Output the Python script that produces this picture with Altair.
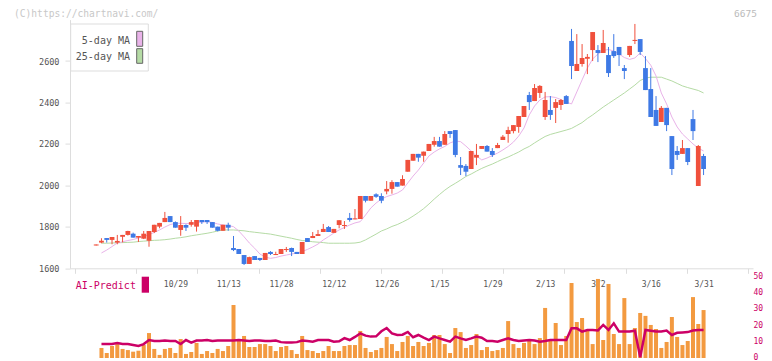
import altair as alt
import numpy as np
import pandas as pd

# ---------------- data ----------------
opens = [1710, 1724, 1746, 1737, 1724, 1752, 1761, 1767, 1748, 1743,
         1733, 1775, 1801, 1823, 1852, 1823, 1785, 1809, 1810, 1801,
         1833, 1833, 1823, 1801, 1781, 1810, 1698, 1693, 1664, 1621,
         1659, 1650, 1640, 1679, 1664, 1669, 1688, 1698, 1679, 1669,
         1746, 1746, 1756, 1775, 1799, 1771, 1809, 1804, 1843, 1836,
         1838, 1949, 1926, 1957, 1949, 1971, 1983, 2016, 1999, 2066,
         2119, 2152, 2143, 2166, 2196, 2214, 2196, 2262, 2267, 2098,
         2094, 2079, 2134, 2176, 2190, 2166, 2180, 2219, 2248, 2262,
         2282, 2330, 2436, 2407, 2446, 2330, 2364, 2374, 2388, 2431,
         2697, 2552, 2586, 2611, 2653, 2653, 2639, 2629, 2648, 2668,
         2566, 2629, 2697, 2706, 2566, 2465, 2364, 2306, 2374, 2238,
         2166, 2152, 2180, 2320, 1997, 2142]
highs = [1715, 1745, 1746, 1751, 1761, 1761, 1781, 1772, 1756, 1780,
         1780, 1810, 1819, 1872, 1852, 1826, 1852, 1812, 1833, 1833,
         1833, 1833, 1823, 1801, 1810, 1820, 1756, 1693, 1664, 1656,
         1659, 1650, 1674, 1683, 1680, 1693, 1703, 1700, 1679, 1727,
         1746, 1775, 1785, 1814, 1804, 1790, 1832, 1828, 1867, 1886,
         1949, 1949, 1949, 1962, 1962, 2021, 2025, 2016, 2049, 2123,
         2152, 2152, 2163, 2200, 2234, 2234, 2262, 2262, 2267, 2137,
         2103, 2166, 2200, 2190, 2195, 2180, 2205, 2243, 2283, 2291,
         2335, 2383, 2451, 2489, 2484, 2451, 2431, 2417, 2417, 2436,
         2755, 2730, 2682, 2634, 2740, 2677, 2750, 2668, 2730, 2668,
         2581, 2673, 2779, 2706, 2624, 2566, 2431, 2383, 2374, 2238,
         2190, 2219, 2180, 2364, 2195, 2152]
lows = [1710, 1721, 1724, 1716, 1716, 1725, 1758, 1748, 1727, 1741,
        1704, 1770, 1793, 1823, 1823, 1796, 1757, 1780, 1801, 1777,
        1814, 1814, 1796, 1778, 1781, 1781, 1683, 1669, 1616, 1621,
        1640, 1635, 1640, 1664, 1664, 1669, 1679, 1659, 1669, 1669,
        1727, 1746, 1756, 1775, 1775, 1771, 1793, 1790, 1825, 1836,
        1838, 1918, 1926, 1940, 1914, 1957, 1960, 1994, 1999, 2066,
        2119, 2114, 2114, 2166, 2187, 2187, 2196, 2229, 2136, 2050,
        2045, 2079, 2098, 2176, 2163, 2137, 2180, 2219, 2206, 2251,
        2254, 2330, 2364, 2407, 2422, 2316, 2316, 2301, 2364, 2393,
        2513, 2552, 2573, 2537, 2600, 2595, 2639, 2523, 2615, 2576,
        2513, 2620, 2682, 2629, 2460, 2330, 2287, 2306, 2262, 2050,
        2123, 2152, 2098, 2219, 1997, 2050]
closes = [1715, 1733, 1737, 1751, 1732, 1761, 1780, 1748, 1756, 1767,
          1780, 1810, 1819, 1843, 1823, 1796, 1809, 1796, 1823, 1833,
          1823, 1823, 1796, 1781, 1810, 1796, 1688, 1669, 1621, 1654,
          1640, 1640, 1674, 1669, 1669, 1693, 1693, 1679, 1669, 1727,
          1727, 1756, 1765, 1790, 1775, 1790, 1832, 1809, 1833, 1841,
          1949, 1926, 1949, 1945, 1926, 1983, 2016, 1994, 2031, 2123,
          2152, 2134, 2163, 2200, 2214, 2187, 2248, 2248, 2147, 2085,
          2066, 2166, 2147, 2190, 2163, 2147, 2195, 2235, 2267, 2291,
          2335, 2383, 2402, 2470, 2480, 2412, 2340, 2402, 2412, 2393,
          2576, 2586, 2615, 2620, 2740, 2639, 2687, 2542, 2624, 2629,
          2552, 2673, 2702, 2644, 2460, 2330, 2287, 2374, 2291, 2079,
          2147, 2180, 2113, 2262, 2190, 2079]

# series that start on day 1
ma5 = [1674, 1688, 1705, 1722, 1728, 1734, 1739, 1746, 1753, 1763,
       1773, 1785, 1799, 1811, 1817, 1817, 1816, 1816, 1821, 1823,
       1825, 1821, 1814, 1809, 1806, 1801, 1780, 1752, 1722, 1697,
       1669, 1654, 1648, 1652, 1659, 1664, 1669, 1674, 1681, 1691,
       1703, 1717, 1737, 1753, 1770, 1785, 1797, 1809, 1819, 1825,
       1857, 1891, 1915, 1934, 1946, 1954, 1963, 1978, 2012, 2045,
       2074, 2108, 2142, 2161, 2176, 2188, 2205, 2214, 2211, 2190,
       2166, 2142, 2123, 2132, 2144, 2156, 2171, 2188, 2209, 2238,
       2277, 2340, 2383, 2412, 2427, 2428, 2424, 2414, 2402, 2393,
       2451, 2509, 2566, 2610, 2634, 2651, 2656, 2648, 2634, 2617,
       2608, 2615, 2639, 2612, 2580, 2528, 2446, 2393, 2330, 2282,
       2248, 2224, 2200, 2180, 2166]
ma25 = [1721, 1721, 1722, 1723, 1724, 1725, 1726, 1729, 1731, 1733,
        1735, 1736, 1738, 1741, 1745, 1748, 1752, 1757, 1761, 1765,
        1769, 1774, 1780, 1785, 1785, 1785, 1783, 1781, 1777, 1774,
        1771, 1768, 1765, 1760, 1755, 1750, 1745, 1739, 1734, 1732,
        1728, 1726, 1724, 1721, 1721, 1721, 1721, 1721, 1722, 1726,
        1737, 1751, 1765, 1780, 1790, 1802, 1811, 1823, 1836, 1852,
        1869, 1888, 1910, 1934, 1956, 1977, 1995, 2010, 2026, 2043,
        2055, 2069, 2082, 2093, 2103, 2115, 2127, 2137, 2149, 2161,
        2176, 2188, 2205, 2221, 2236, 2246, 2253, 2260, 2267, 2275,
        2289, 2303, 2323, 2340, 2359, 2378, 2395, 2412, 2429, 2446,
        2465, 2484, 2506, 2518, 2522, 2522, 2522, 2513, 2504, 2492,
        2480, 2472, 2465, 2458, 2446]
volume = [6.2, 3.1, 7.4, 8.6, 5.6, 4.9, 3.9, 4.5, 8.0, 15.4,
          5.6, 1.9, 5.6, 6.2, 3.1, 11.7, 2.5, 3.7, 9.3, 2.5,
          4.3, 3.1, 5.6, 4.3, 7.4, 32.7, 11.7, 13.6, 6.8, 6.8,
          8.6, 8.6, 7.4, 4.3, 6.8, 7.4, 4.9, 2.5, 13.6, 4.9,
          4.3, 3.1, 4.3, 7.4, 4.3, 4.3, 7.4, 8.0, 8.0, 16.7,
          6.2, 3.7, 4.9, 6.2, 13.0, 8.6, 4.3, 9.9, 13.6, 7.4,
          9.9, 7.4, 9.3, 14.2, 14.2, 8.6, 3.1, 18.5, 16.0, 6.2,
          8.0, 14.8, 4.9, 6.8, 4.3, 4.9, 6.2, 22.8, 8.6, 6.2,
          9.3, 10.5, 8.6, 12.3, 30.9, 10.5, 21.6, 8.0, 13.6, 46.3,
          22.2, 24.7, 17.3, 8.6, 48.8, 11.1, 45.7, 14.8, 8.6, 37.0,
          8.6, 18.5, 27.8, 26.0, 20.4, 17.9, 6.2, 9.9, 25.3, 13.0,
          8.0, 10.5, 37.6, 21.0, 29.6]
ai_predict = [8.6, 8.6, 8.6, 9.3, 8.6, 8.6, 8.0, 7.4, 8.6, 11.1,
              10.5, 10.5, 10.8, 10.5, 10.5, 8.6, 11.1, 9.5, 10.8, 10.8,
              11.1, 10.5, 10.8, 10.8, 10.8, 10.8, 11.1, 10.8, 10.5, 10.8,
              10.8, 10.5, 10.5, 10.8, 9.8, 9.5, 9.5, 9.8, 10.8, 10.5,
              10.1, 11.1, 11.1, 11.1, 10.1, 10.3, 12.3, 11.1, 13.0, 15.2,
              13.8, 13.2, 13.4, 16.5, 18.5, 15.2, 14.2, 14.4, 16.1, 12.8,
              14.2, 12.6, 11.1, 13.2, 12.1, 11.1, 10.1, 13.2, 12.1, 11.1,
              12.1, 13.2, 12.5, 10.5, 10.5, 10.1, 11.1, 12.1, 11.1, 10.5,
              10.8, 11.1, 10.8, 10.1, 10.5, 11.1, 11.1, 11.1, 11.1, 18.3,
              18.3, 16.3, 17.3, 17.3, 17.0, 20.4, 17.3, 21.4, 16.3, 16.3,
              16.3, 16.8, 0.5, 17.3, 16.8, 16.3, 16.3, 16.9, 14.2, 15.6,
              15.8, 16.0, 17.0, 17.3, 17.3]

date_idx = [15, 25, 35, 45, 55, 65, 75, 85, 95, 105, 115]
date_labels = ["10/29", "11/13", "11/28", "12/12", "12/26", "1/15",
               "1/29", "2/13", "3/2", "3/16", "3/31"]
price_ticks = [1600, 1800, 2000, 2200, 2400, 2600]
vol_ticks = [0, 10, 20, 30, 40, 50]

# ---------------- styling ----------------
RED = "#f0503c"
BLUE = "#3e79e5"
ORANGE = "#f39a40"
CRIMSON = "#cc0066"
PINK = "#e9b3e9"
GREEN = "#b5dba5"
GRID = "#dddddd"
TXT = "#555555"
MONO = "DejaVu Sans Mono"

W, H = 683, 338.4
PRICE_BOTTOM = 248.7          # pixel y of the price-panel baseline
X_DOMAIN = [-4.011, 123.413]
tick_vals = [X_DOMAIN[0] + k * (X_DOMAIN[1] - X_DOMAIN[0]) / 11 for k in range(12)]

n = len(opens)
candles = pd.DataFrame({"i": np.arange(n), "open": opens, "high": highs,
                        "low": lows, "close": closes})
candles["dir"] = np.where(candles["close"] >= candles["open"], "up", "down")
series = pd.DataFrame({"i": np.arange(1, n), "ma5": ma5, "ma25": ma25,
                       "vol": volume, "ai": ai_predict})

xscale = alt.Scale(domain=X_DOMAIN, nice=False, zero=False)
price_scale = alt.Scale(domain=[1600, 2800], range=[PRICE_BOTTOM, 0], nice=False, zero=False)
vol_scale = alt.Scale(domain=[0, 50], range=[H, H - 81], nice=False, zero=False)

x_price_axis = alt.Axis(values=tick_vals, labels=False, ticks=True, tickSize=5,
                        tickColor=GRID, domainColor=GRID, grid=False, title=None,
                        orient="bottom", offset=-(H - PRICE_BOTTOM))
label_expr = " : ".join(f"datum.value == {d} ? '{t}'" for d, t in zip(date_idx, date_labels)) + " : ''"
x_vol_axis = alt.Axis(values=date_idx, labelExpr=label_expr, ticks=False, domain=False,
                      grid=False, title=None, orient="bottom", offset=-74,
                      labelBaseline="middle", labelPadding=0, labelFont=MONO,
                      labelFontSize=8, labelColor=TXT, labelOverlap=False, labelFlush=False)
price_axis = alt.Axis(values=price_ticks, format="d", orient="left", tickSize=5, tickColor=GRID,
                      domainColor=GRID, labelPadding=6, labelColor=TXT, labelFont=MONO,
                      labelFontSize=8.5, title=None, grid=False)
vol_axis = alt.Axis(values=vol_ticks, orient="right", ticks=False, domain=False,
                    labelColor=CRIMSON, labelPadding=0, labelFont=MONO, labelFontSize=8,
                    labelOffset=-0.5, title=None, grid=False, labelBaseline="middle",
                    labelFlush=False, labelOverlap=False)

def xp():
    return alt.X("i:Q", scale=xscale, axis=x_price_axis)

def xv():
    return alt.X("i:Q", scale=xscale, axis=x_vol_axis)

def yp(field):
    return alt.Y(f"{field}:Q", scale=price_scale, axis=price_axis)

def yv(field):
    return alt.Y(f"{field}:Q", scale=vol_scale, axis=vol_axis)

color = alt.Color("dir:N", scale=alt.Scale(domain=["up", "down"], range=[RED, BLUE]), legend=None)

wicks = alt.Chart(candles).mark_rule(strokeWidth=1).encode(x=xp(), y=yp("low"), y2="high:Q", color=color)
bodies = alt.Chart(candles).mark_bar(size=4.8).encode(x=xp(), y=yp("open"), y2="close:Q", color=color)
line5 = alt.Chart(series).mark_line(color=PINK, strokeWidth=1).encode(x=xp(), y=yp("ma5"))
line25 = alt.Chart(series).mark_line(color=GREEN, strokeWidth=1).encode(x=xp(), y=yp("ma25"))
price = alt.layer(line25, line5, wicks, bodies)

vbars = alt.Chart(series).mark_bar(size=4, color=ORANGE).encode(x=xv(), y=yv("vol"))
aline = alt.Chart(series).mark_line(color=CRIMSON, strokeWidth=2.5).encode(x=xv(), y=yv("ai"))
vol = alt.layer(vbars, aline)

one = pd.DataFrame({"k": [0]})

def text(t, x, y, size, col, align="left"):
    return alt.Chart(one).mark_text(text=t, font=MONO, fontSize=size, color=col,
                                    align=align, baseline="middle").encode(
        x=alt.value(x), y=alt.value(y))

def box(x, x2, y, y2, fill, stroke=None):
    kw = dict(fill=fill)
    if stroke:
        kw.update(stroke=stroke, strokeWidth=1)
    return alt.Chart(one).mark_rect(**kw).encode(
        x=alt.value(x), x2=alt.value(x2), y=alt.value(y), y2=alt.value(y2))

annotations = [
    box(0.7, 78.3, 4.4, 51.4, "white", GRID),
    text("5-day MA", 60, 21.4, 10, TXT, "right"),
    text("25-day MA", 60, 37.4, 10, TXT, "right"),
    box(66.7, 72.7, 11.7, 26.7, PINK, "#666666"),
    box(66.7, 72.7, 29.1, 43.7, GREEN, "#666666"),
    text("AI-Predict", 5.7, 266.4, 10, CRIMSON),
    box(71.7, 79, 257.1, 273.1, CRIMSON),
    text("(C)https://chartnavi.com/", -56, -5.6, 9.6, "#c8c8c8"),
    text("6675", 687, -5.6, 9.5, "#bbbbbb", "right"),
]

chart = alt.layer(price, vol, *annotations).resolve_scale(
    y="independent").resolve_axis(x="independent", y="independent").properties(
    width=W, height=H,
    autosize=alt.AutoSizeParams(type="none"),
    padding={"left": 62, "top": 11.6, "right": 11, "bottom": 3},
).configure_view(stroke=None).configure_axis(grid=False)

chart.save("out.html", embed_options={"renderer": "svg", "actions": False})
